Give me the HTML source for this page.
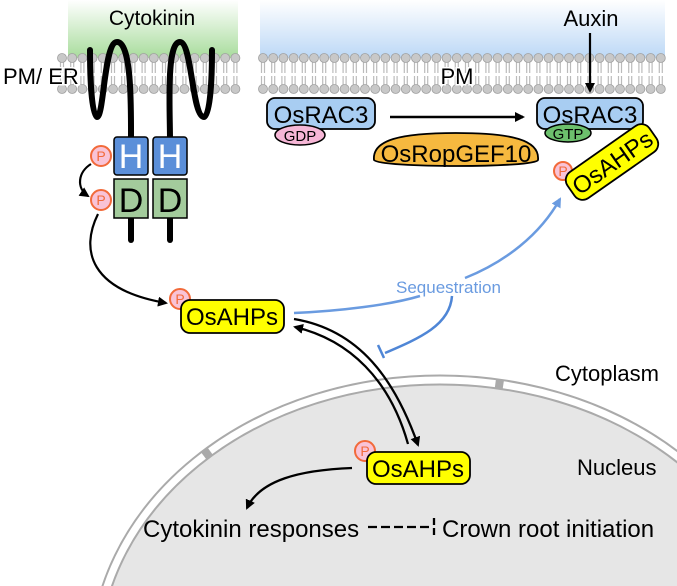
<!DOCTYPE html>
<html><head><meta charset="utf-8"><style>
html,body{margin:0;padding:0;background:#fff;overflow:hidden;width:677px;height:586px;}
svg{display:block;font-family:"Liberation Sans",Arial,sans-serif;}
</style></head><body>
<svg width="677" height="586" viewBox="0 0 677 586" xmlns="http://www.w3.org/2000/svg" style="overflow:hidden">
<defs>
<linearGradient id="g" x1="0" y1="0" x2="0" y2="1"><stop offset="0" stop-color="#fff"/><stop offset="1" stop-color="#a8dc9c"/></linearGradient>
<linearGradient id="b" x1="0" y1="0" x2="0" y2="1"><stop offset="0" stop-color="#fff"/><stop offset="1" stop-color="#bcd8f6"/></linearGradient>
<marker id="ak" markerWidth="10" markerHeight="10" refX="8" refY="5" orient="auto" markerUnits="userSpaceOnUse"><path d="M0,0 L10,5 L0,10 z" fill="#000"/></marker>
<marker id="ab" markerWidth="10" markerHeight="10" refX="8" refY="5" orient="auto" markerUnits="userSpaceOnUse"><path d="M0,0 L10,5 L0,10 z" fill="#6a9be0"/></marker>
<clipPath id="cl"><rect x="0" y="0" width="677" height="586"/></clipPath>
</defs>

<g clip-path="url(#cl)">
<ellipse cx="440" cy="660" rx="345" ry="280" fill="#e6e6e6" stroke="#aaa" stroke-width="11"/>
<ellipse cx="440" cy="660" rx="345" ry="280" fill="none" stroke="#fff" stroke-width="7" stroke-dasharray="300 8"/>
</g>

<rect x="68" y="0" width="170" height="58" fill="url(#g)"/>
<rect x="260" y="0" width="405" height="58" fill="url(#b)"/>
<rect x="60" y="58" width="178" height="32" fill="#fff"/>
<rect x="260" y="58" width="405" height="32" fill="#fff"/>
<g id="mem"></g>

<text x="152" y="25" font-size="21" text-anchor="middle">Cytokinin</text>
<text x="3" y="84" font-size="22" style="paint-order:stroke" stroke="#fff" stroke-width="3">PM/ ER</text>
<text x="457" y="84" font-size="22" text-anchor="middle" style="paint-order:stroke" stroke="#fff" stroke-width="3">PM</text>
<text x="591" y="26" font-size="22" text-anchor="middle">Auxin</text>
<line x1="590" y1="33" x2="590" y2="91" stroke="#000" stroke-width="2.2" marker-end="url(#ak)"/>

<g fill="none" stroke="#000" stroke-width="6" stroke-linecap="round">
<path d="M90 50 C90 80 92 117 97 117 C104 117 104 42 117 42 C132 42 131 110 131 140"/>
<path d="M131 218 V240"/>
<path d="M170 140 C170 110 166 42 180 42 C192 42 192 117 204 117 C210 117 212 80 212 50"/>
<path d="M170 218 V240"/>
</g>
<rect x="114" y="137" width="34" height="38" rx="3" fill="#5b8fd9" stroke="#000" stroke-width="1.5"/>
<rect x="153" y="137" width="34" height="38" rx="3" fill="#5b8fd9" stroke="#000" stroke-width="1.5"/>
<rect x="114" y="179" width="34" height="39" fill="#a3cb9c" stroke="#000" stroke-width="1.5"/>
<rect x="153" y="179" width="34" height="39" fill="#a3cb9c" stroke="#000" stroke-width="1.5"/>
<g font-size="34" text-anchor="middle">
<text x="131" y="168" fill="#fff">H</text><text x="170" y="168" fill="#fff">H</text>
<text x="131" y="212">D</text><text x="170" y="212">D</text>
</g>
<g fill="#f9c3d6" stroke="#f26a3a" stroke-width="2">
<circle cx="101" cy="156" r="10"/><circle cx="101" cy="200" r="10"/>
<circle cx="180" cy="299" r="10"/><circle cx="365" cy="451" r="10"/><circle cx="563" cy="171" r="9"/>
</g>
<g font-size="14" fill="#f26a3a" text-anchor="middle">
<text x="101" y="161">P</text><text x="101" y="205">P</text><text x="180" y="304">P</text><text x="365" y="456">P</text><text x="563" y="176">P</text>
</g>
<path d="M91 164 C78 172 76 188 88 196" fill="none" stroke="#000" stroke-width="2.2" marker-end="url(#ak)"/>
<path d="M98 214 C80 250 90 290 166 303" fill="none" stroke="#000" stroke-width="2.2" marker-end="url(#ak)"/>

<rect x="267" y="98" width="108" height="31" rx="8" fill="#a8cdf2" stroke="#000" stroke-width="1.8"/>
<text x="321" y="123" font-size="24" text-anchor="middle">OsRAC3</text>
<ellipse cx="300" cy="135" rx="25" ry="10" fill="#f6b6d6" stroke="#000" stroke-width="1.5"/>
<text x="300" y="141" font-size="15" text-anchor="middle">GDP</text>
<line x1="390" y1="117" x2="523" y2="117" stroke="#000" stroke-width="2.4" marker-end="url(#ak)"/>
<path d="M374 160 C372 140 400 133 456 133 C512 133 540 140 538 160 C536 168 380 168 374 160 z" fill="#f6b93f" stroke="#000" stroke-width="1.8"/>
<text x="456" y="162" font-size="24" text-anchor="middle">OsRopGEF10</text>
<rect x="537" y="98" width="106" height="31" rx="8" fill="#a8cdf2" stroke="#000" stroke-width="1.8"/>
<text x="590" y="123" font-size="24" text-anchor="middle">OsRAC3</text>
<ellipse cx="568" cy="133" rx="23" ry="9" fill="#6cc06c" stroke="#000" stroke-width="1.5"/>
<text x="568" y="139" font-size="15" text-anchor="middle">GTP</text>
<g transform="translate(612,162) rotate(-35)">
<rect x="-50" y="-16" width="100" height="32" rx="10" fill="#ffff00" stroke="#000" stroke-width="1.8"/>
<text x="0" y="9" font-size="24" text-anchor="middle">OsAHPs</text>
</g>

<rect x="181" y="300" width="103" height="33" rx="9" fill="#ffff00" stroke="#000" stroke-width="1.8"/>
<text x="232" y="325" font-size="24" text-anchor="middle">OsAHPs</text>
<rect x="367" y="452" width="103" height="32" rx="9" fill="#ffff00" stroke="#000" stroke-width="1.8"/>
<text x="418" y="477" font-size="24" text-anchor="middle">OsAHPs</text>

<path d="M294 313 C340 311 390 305 420 296" fill="none" stroke="#6a9be0" stroke-width="2.5"/>
<path d="M465 278 C505 262 540 235 560 199" fill="none" stroke="#6a9be0" stroke-width="2.5" marker-end="url(#ab)"/>
<text x="396" y="293" font-size="17" fill="#6a9be0">Sequestration</text>
<path d="M452 296 C450 325 420 338 385 353" fill="none" stroke="#4f86d6" stroke-width="2.5"/>
<line x1="378" y1="345" x2="384" y2="358" stroke="#4f86d6" stroke-width="2.5"/>

<path d="M294 319 C360 330 395 380 418 445" fill="none" stroke="#000" stroke-width="2.3" marker-end="url(#ak)"/>
<path d="M408 444 C390 380 350 340 295 327" fill="none" stroke="#000" stroke-width="2.3" marker-end="url(#ak)"/>

<path d="M352 468 C300 470 260 480 247 508" fill="none" stroke="#000" stroke-width="2.3" marker-end="url(#ak)"/>
<text x="143" y="537" font-size="24">Cytokinin responses</text>
<line x1="368" y1="527" x2="432" y2="527" stroke="#000" stroke-width="2.3" stroke-dasharray="9 4"/>
<line x1="434" y1="518" x2="434" y2="537" stroke="#000" stroke-width="2.3" stroke-dasharray="7 3"/>
<text x="442" y="537" font-size="24">Crown root initiation</text>
<text x="555" y="381" font-size="22">Cytoplasm</text>
<text x="577" y="475" font-size="22">Nucleus</text>
</svg>
<script>
(function(){
var ns="http://www.w3.org/2000/svg",g=document.getElementById("mem");
function mk(t,a){var e=document.createElementNS(ns,t);for(var k in a)e.setAttribute(k,a[k]);g.appendChild(e);}
function seg(x0,x1){
 for(var x=x0;x<=x1;x+=10.2){
  [[61,73],[76,87]].forEach(function(r){[x-1.5,x+1.5].forEach(function(xx){
   mk("line",{x1:xx,x2:xx,y1:r[0],y2:r[1],stroke:"#bbb","stroke-width":1.2});});});
 }
 for(var x=x0;x<=x1;x+=10.2){[58,89].forEach(function(y){
   mk("circle",{cx:x,cy:y,r:4.5,fill:"#c8c8c8",stroke:"#a0a0a0","stroke-width":0.8});});}
}
seg(62,236);seg(263,662);
})();
</script>
</body></html>
